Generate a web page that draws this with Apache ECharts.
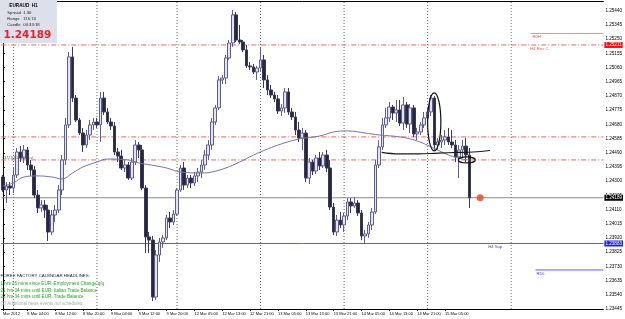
<!DOCTYPE html>
<html><head><meta charset="utf-8">
<script src="https://cdn.jsdelivr.net/npm/echarts/dist/echarts.min.js"></script>
<style>html,body{margin:0;padding:0;background:#fff;}#c{width:625px;height:319px;}</style>
</head><body><div id="c"></div>
<script>
// ---- data (EURAUD H1) ----
const sessions = [['7 Mar',21,23],['8 Mar',0,23],['9 Mar',0,22],['12 Mar',0,23],['13 Mar',0,23],['14 Mar',0,23],['15 Mar',0,12]];
const futureBars = 38;
const tickLabels = [[0,'Mar 2012'],[7,'8 Mar 04:00'],[15,'8 Mar 12:00'],[23,'8 Mar 20:00'],[31,'9 Mar 04:00'],[39,'9 Mar 12:00'],[47,'9 Mar 20:00'],[55,'12 Mar 05:00'],[63,'12 Mar 13:00'],[71,'12 Mar 21:00'],[79,'13 Mar 05:00'],[87,'13 Mar 13:00'],[95,'13 Mar 21:00'],[103,'14 Mar 05:00'],[111,'14 Mar 13:00'],[119,'14 Mar 21:00'],[127,'15 Mar 05:00']];

const opens = [1.24328,1.24241,1.24268,1.24254,1.24341,1.24495,1.24455,1.24509,1.24408,1.24375,
1.24207,1.24121,1.24141,1.24107,1.23960,1.24074,1.24107,1.24241,1.24442,1.24676,
1.25131,1.24856,1.24709,1.24622,1.24542,1.24609,1.24676,1.24696,1.24676,1.24856,
1.24763,1.24696,1.24669,1.24495,1.24468,1.24388,1.24408,1.24321,1.24428,1.24542,
1.24509,1.24254,1.23927,1.23906,1.23525,1.23806,1.23893,1.23920,1.24054,1.24027,
1.24080,1.24241,1.24388,1.24274,1.24321,1.24288,1.24335,1.24361,1.24408,1.24475,
1.24542,1.24696,1.24790,1.24977,1.24990,1.25124,1.25224,1.25412,1.25244,1.25231,
1.25178,1.25071,1.25064,1.25030,1.25057,1.25111,1.24977,1.24910,1.24876,1.24850,
1.24769,1.24790,1.24897,1.24763,1.24729,1.24642,1.24589,1.24622,1.24321,1.24428,
1.24368,1.24455,1.24402,1.24475,1.24388,1.24127,1.23960,1.24040,1.24007,1.24067,
1.24161,1.24134,1.24154,1.24087,1.23933,1.23947,1.24007,1.24094,1.24408,1.24529,
1.24676,1.24723,1.24796,1.24756,1.24776,1.24689,1.24810,1.24682,1.24790,1.24616,
1.24629,1.24676,1.24723,1.24763,1.24856,1.24542,1.24562,1.24575,1.24596,1.24562,
1.24542,1.24462,1.24509,1.24535,1.24475];
const closes = [1.24241,1.24268,1.24254,1.24341,1.24495,1.24455,1.24509,1.24408,1.24375,1.24207,
1.24121,1.24141,1.24107,1.23960,1.24074,1.24107,1.24241,1.24442,1.24676,1.25131,
1.24856,1.24709,1.24622,1.24542,1.24609,1.24676,1.24696,1.24676,1.24856,1.24763,
1.24696,1.24669,1.24495,1.24468,1.24388,1.24408,1.24321,1.24428,1.24542,1.24509,
1.24254,1.23927,1.23906,1.23525,1.23806,1.23893,1.23920,1.24054,1.24027,1.24080,
1.24241,1.24388,1.24274,1.24321,1.24288,1.24335,1.24361,1.24408,1.24475,1.24542,
1.24696,1.24790,1.24977,1.24990,1.25124,1.25224,1.25412,1.25244,1.25231,1.25178,
1.25071,1.25064,1.25030,1.25057,1.25111,1.24977,1.24910,1.24876,1.24850,1.24769,
1.24790,1.24897,1.24763,1.24729,1.24642,1.24589,1.24622,1.24321,1.24428,1.24368,
1.24455,1.24402,1.24475,1.24388,1.24127,1.23960,1.24040,1.24007,1.24067,1.24161,
1.24134,1.24154,1.24087,1.23933,1.23947,1.24007,1.24094,1.24408,1.24529,1.24676,
1.24723,1.24796,1.24756,1.24776,1.24689,1.24810,1.24682,1.24790,1.24616,1.24629,
1.24676,1.24723,1.24763,1.24856,1.24542,1.24562,1.24575,1.24596,1.24562,1.24542,
1.24462,1.24509,1.24535,1.24475,1.24189];
const highs = [1.24341,1.24294,1.24294,1.24395,1.24522,1.24535,1.24542,1.24529,1.24442,1.24402,
1.24241,1.24174,1.24174,1.24141,1.24107,1.24141,1.24274,1.24475,1.24723,1.25164,
1.25198,1.24876,1.24723,1.24656,1.24642,1.24709,1.24723,1.24723,1.24897,1.24897,
1.24790,1.24723,1.24696,1.24522,1.24509,1.24442,1.24428,1.24455,1.24575,1.24562,
1.24542,1.24274,1.23960,1.23933,1.23840,1.23920,1.23940,1.24074,1.24094,1.24107,
1.24254,1.24408,1.24428,1.24341,1.24341,1.24361,1.24388,1.24442,1.24509,1.24575,
1.24723,1.24810,1.25004,1.25010,1.25144,1.25244,1.25445,1.25432,1.25345,1.25244,
1.25211,1.25097,1.25084,1.25071,1.25191,1.25144,1.25010,1.24943,1.24897,1.24876,
1.24816,1.24923,1.24923,1.24790,1.24763,1.24696,1.24656,1.24642,1.24455,1.24442,
1.24475,1.24495,1.24495,1.24509,1.24442,1.24154,1.24074,1.24094,1.24087,1.24187,
1.24187,1.24194,1.24174,1.24107,1.23973,1.24027,1.24121,1.24442,1.24575,1.24723,
1.24790,1.24830,1.24810,1.24843,1.24843,1.24863,1.24830,1.24816,1.24810,1.24656,
1.24696,1.24763,1.24790,1.24876,1.24870,1.24589,1.24609,1.24642,1.24656,1.24642,
1.24575,1.24542,1.24575,1.24589,1.24522];
const lows = [1.24228,1.24154,1.24207,1.24221,1.24321,1.24428,1.24422,1.24375,1.24335,1.24187,
1.24087,1.24094,1.24054,1.23900,1.23940,1.24027,1.24087,1.24207,1.24408,1.24656,
1.24830,1.24696,1.24609,1.24495,1.24522,1.24575,1.24642,1.24656,1.24562,1.24743,
1.24682,1.24642,1.24475,1.24428,1.24375,1.24361,1.24308,1.24308,1.24408,1.24455,
1.24241,1.23819,1.23819,1.23498,1.23505,1.23759,1.23853,1.23906,1.23987,1.24007,
1.24067,1.24228,1.24241,1.24254,1.24254,1.24268,1.24294,1.24321,1.24375,1.24442,
1.24509,1.24676,1.24776,1.24950,1.24950,1.25111,1.25198,1.25231,1.25218,1.25164,
1.25057,1.25044,1.25017,1.24977,1.25030,1.24923,1.24876,1.24856,1.24830,1.24749,
1.24736,1.24756,1.24743,1.24709,1.24609,1.24562,1.24509,1.24294,1.24281,1.24341,
1.24348,1.24375,1.24388,1.24361,1.24107,1.23940,1.23933,1.23987,1.23960,1.24040,
1.24087,1.24121,1.24067,1.23906,1.23880,1.23920,1.23973,1.24080,1.24388,1.24509,
1.24656,1.24696,1.24709,1.24696,1.24669,1.24642,1.24656,1.24622,1.24596,1.24575,
1.24609,1.24656,1.24696,1.24736,1.24509,1.24509,1.24522,1.24542,1.24542,1.24522,
1.24428,1.24321,1.24455,1.24428,1.24121];

// moving average, sampled (bar index, price)
const maK = [0,3,6,10,14,17,20,23,27,30,36,39,44,47,51,57,60,64,68,72,76,80,85,91,95,99,104,108,114,119,123,128,132,134];
const maP = [1.24268,1.24288,1.24328,1.24335,1.24328,1.24315,1.24355,1.24395,1.24428,1.24448,1.24442,1.24422,1.24402,1.24388,1.24361,1.24355,1.24361,1.24388,1.24428,1.24475,1.24515,1.24549,1.24582,1.24602,1.24629,1.24636,1.24622,1.24609,1.24596,1.24569,1.24529,1.24475,1.24448,1.24442];

// hand-drawn trend line
const trendK = [108.8,113.7,119.4,125.1,130.8,135.1,139.9];
const trendP = [1.24492,1.24482,1.24482,1.24488,1.24492,1.24495,1.24505];

// levels
const dashLevels = [1.25211,1.24596,1.24442];
const currentPrice = 1.24189;
const h4Sup = 1.23883;
const r0h = 1.25288, r0hFrom = 151.7;
const rdl = 1.23706, rdlFrom = 153;
const daySeparators = [3,27,50,74,98,122,146];
const ellipses = [[122.0,1.24890,125.8,1.24502],[130.8,1.24462,135.7,1.24422]];
const dot = [137.1,1.24189];

const infoTitle = ['EURAUD','H1'];
const infoLines = [['Spread','1.30'],['Range','116.74'],['Candle','00:33:18']];
const levelTag = '#3721(1.24442) Lvl';
const newsHead = 'FOREX FACTORY CALENDAR HEADLINES:';
const newsLines = ['1 hrs 26 mins since EUR: Employment Change q/q','21 hrs 34 mins until EUR: Italian Trade Balance','22 hrs 34 mins until EUR: Trade Balance'];
const newsFoot = '(3) Additional news events not scheduled';

// ---- build ----
const categories = [];
sessions.forEach(([d,h0,h1]) => { for (let h=h0; h<=h1; h++) categories.push(d+' '+String(h).padStart(2,'0')+':00'); });
for (let i=0;i<futureBars;i++) categories.push('+'+(i+1));
const N = categories.length;
const Y0 = 1.23445, Y1 = 1.25505;
const labelMap = new Map(tickLabels);
const candles = opens.map((o,i)=>[o, closes[i], lows[i], highs[i]]);
const F = 'Liberation Sans';

const chart = echarts.init(document.getElementById('c'), null, {renderer:'canvas'});
const badge = (v,color)=>({show:true, distance:1, formatter:()=>v.toFixed(5), color:'#fff', backgroundColor:color, fontSize:4.6, fontFamily:F, padding:[1,1,0,1]});
const hLine = (v, style, lab)=>({type:'line', xAxisIndex:1, data:[[-0.5,v],[N-0.5,v]], showSymbol:false, silent:true, lineStyle:style, endLabel: lab || {show:false}, z:1});
const vLines = daySeparators.map(k=>({type:'line', xAxisIndex:1, data:[[k,Y0],[k,Y1]], showSymbol:false, silent:true, lineStyle:{color:'#666', type:[1,2], width:1}, z:1}));
const dd = {color:'#e06a5a', type:[5,2,1,2], width:1};

chart.setOption({
  animation:false,
  backgroundColor:'#ffffff',
  grid:{left:0, right:19, top:1, bottom:10, show:false},
  xAxis:[{type:'category', data:categories, boundaryGap:true,
      axisLine:{show:true, lineStyle:{color:'#000', width:1}},
      axisTick:{show:true, alignWithLabel:true, interval:(i)=>labelMap.has(i), length:2, lineStyle:{color:'#000'}},
      axisLabel:{interval:(i)=>labelMap.has(i), formatter:(v,i)=>labelMap.get(i)||'', align:'left', fontSize:4.0, fontFamily:F, color:'#000', margin:2.5},
      splitLine:{show:false}},
    {type:'value', min:-0.5, max:N-0.5, show:false},
    {type:'category', position:'top', data:categories, axisLine:{show:true, lineStyle:{color:'#000'}}, axisTick:{show:false}, axisLabel:{show:false}}],
  yAxis:{type:'value', position:'right', min:Y0, max:Y1, interval:0.00095,
      axisLine:{show:true, lineStyle:{color:'#000'}},
      axisTick:{show:true, length:2, lineStyle:{color:'#000'}},
      axisLabel:{formatter:(v)=>v.toFixed(5), fontSize:4.6, fontFamily:F, color:'#000', margin:2, showMaxLabel:false},
      splitLine:{show:false}},
  series:[
    ...vLines,
    hLine(dashLevels[0], dd, badge(dashLevels[0], '#f01010')),
    hLine(dashLevels[1], dd),
    hLine(dashLevels[2], dd),
    hLine(currentPrice, {color:'#8a8a8a', width:1}, badge(currentPrice, '#000000')),
    hLine(h4Sup, {color:'#5a5af0', width:1}, badge(h4Sup, '#2020f0')),
    {type:'line', xAxisIndex:1, data:[[r0hFrom,r0h],[N-0.5,r0h]], showSymbol:false, lineStyle:{color:'#f08a8a', width:1}, silent:true},
    {type:'line', xAxisIndex:1, data:[[rdlFrom,rdl],[N-0.5,rdl]], showSymbol:false, lineStyle:{color:'#5a5af0', width:1}, silent:true},
    {type:'candlestick', xAxisIndex:0, data:candles, barWidth:3.2, z:5,
      itemStyle:{color:'#e2e2f2', color0:'#26263e', borderColor:'#5e5e8c', borderColor0:'#3a3a58', borderWidth:1}},
    {type:'line', xAxisIndex:1, data:maK.map((k,i)=>[k,maP[i]]), smooth:0.4, showSymbol:false, lineStyle:{color:'#7474a8', width:1}, silent:true, z:6},
    {type:'line', xAxisIndex:1, data:trendK.map((k,i)=>[k,trendP[i]]), smooth:0.4, showSymbol:false, lineStyle:{color:'#1a1a1a', width:1.2}, silent:true, z:7},
    {type:'scatter', xAxisIndex:1, data:[dot], symbolSize:7, itemStyle:{color:'#e8431c'}, silent:true, z:7}
  ]
});

// ---- overlays placed through the chart's own scales ----
const px = (k,p)=>chart.convertToPixel({xAxisIndex:1, yAxisIndex:0},[k,p]);
const g = [];
ellipses.forEach(([k1,p1,k2,p2])=>{
  const a = px(k1,p1), b = px(k2,p2);
  g.push({type:'ellipse', shape:{cx:(a[0]+b[0])/2, cy:(a[1]+b[1])/2, rx:Math.abs(b[0]-a[0])/2, ry:Math.abs(b[1]-a[1])/2}, style:{fill:'none', stroke:'#111', lineWidth:1.2}, z:50});
});
const T = (text,x,y,o)=>({type:'text', x, y, z:90, style:Object.assign({text, fill:'#000', fontSize:4.2, fontFamily:F, textVerticalAlign:'top'}, o||{})});
let p;
p = px(r0hFrom+0.4, r0h); g.push(T('R0H', p[0], p[1]+1.5, {fill:'#e05a5a'}));
p = px(r0hFrom-0.2, dashLevels[0]); g.push(T('H4 Res C', p[0], p[1]+1.5, {fill:'#e05a5a'}));
p = px(139.4, h4Sup); g.push(T('H4 Sup', p[0], p[1]+1.5, {fill:'#3a3ae0'}));
p = px(rdlFrom+0.3, rdl); g.push(T('RDL', p[0], p[1]+1.5, {fill:'#3a3ae0'}));
p = px(-0.5, dashLevels[2]); g.push(T(levelTag, p[0]+1, p[1]-4.2, {fontSize:3.6, fill:'#555'}));
// info box
g.push({type:'rect', shape:{x:0,y:0,width:57,height:43}, style:{fill:'#dde0ea'}, z:80});
g.push(T(infoTitle[0], 9.3, 3.6, {fontSize:4.7, fontWeight:'bold', fill:'#000'}));
g.push(T(infoTitle[1], 31.7, 3.6, {fontSize:4.7, fontWeight:'bold', fill:'#000'}));
infoLines.forEach(([a,b],i)=>{ g.push(T(a,7.3,11+i*6,{fontSize:4.2, fill:'#222'})); g.push(T(b,23.3,11+i*6,{fontSize:4.2, fill:'#222'})); });
g.push(T(closes[closes.length-1].toFixed(5), 3.5, 29.5, {fontSize:10.5, fontWeight:'bold', fontFamily:'DejaVu Sans', fill:'#e8202a'}));
// news block
g.push(T(newsHead, 0.5, 274, {fontSize:4.4, fill:'#1c1c3c'}));
newsLines.forEach((s,i)=>g.push(T(s, 0.5, 281+i*6.8, {fontSize:4.6, fill:'#28a028'})));
g.push(T(newsFoot, 0.5, 301.5, {fontSize:4.5, fill:'#a8a8a8'}));
chart.setOption({graphic:g});
</script>
</body></html>
